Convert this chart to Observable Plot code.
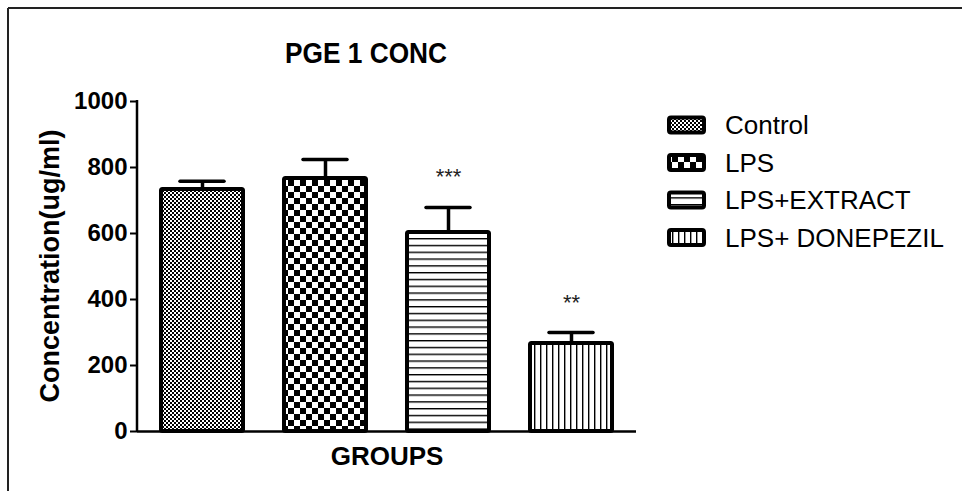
<!DOCTYPE html>
<html><head><meta charset="utf-8">
<script src="https://cdn.jsdelivr.net/npm/d3@7"></script>
<script src="https://cdn.jsdelivr.net/npm/@observablehq/plot@0.6"></script>
<style>
body{margin:0;background:#fff;}
#chart{position:relative;width:962px;height:491px;}
</style>
</head><body><div id="chart"></div>
<script>
const groups = ["Control", "LPS", "LPS+EXTRACT", "LPS+ DONEPEZIL"];
const means = [733, 767, 603, 267];
const sems = [25, 57, 76, 33];
const stars = ["", "", "***", "**"];
const yTicks = [0, 200, 400, 600, 800, 1000];
const patternIds = ["pCtrl", "pLps", "pExt", "pDon"];
const title = "PGE 1 CONC";
const xLabel = "GROUPS";
const yLabel = "Concentration(ug/ml)";

const data = groups.map((g, i) => ({group: g, mean: means[i], sem: sems[i], top: means[i] + sems[i], star: stars[i]}));
const font = "'Liberation Sans', Arial, sans-serif";

const yAxisLine = (index, scales, values, dims) => {
  return d3.create("svg:line")
    .attr("x1", dims.marginLeft).attr("x2", dims.marginLeft)
    .attr("y1", dims.marginTop - 1).attr("y2", dims.height - dims.marginBottom + 1)
    .attr("stroke", "#000").attr("stroke-width", 2.5).node();
};

const svg = Plot.plot({
  width: 962, height: 491,
  marginLeft: 137, marginRight: 326, marginTop: 101, marginBottom: 60,
  style: {background: "transparent", fontFamily: font, color: "#000"},
  x: {domain: groups, paddingInner: 0.33, paddingOuter: 0.19, axis: null},
  y: {domain: [0, 1000], axis: null},
  color: {domain: groups, range: patternIds.map(id => `url(#${id})`)},
  marks: [
    Plot.ruleX(data, {x: "group", y1: "mean", y2: "top", stroke: "#000", strokeWidth: 3.5}),
    Plot.tickY(data, {x: "group", y: "top", inset: 19, stroke: "#000", strokeWidth: 3.5, strokeLinecap: "round"}),
    Plot.barY(data, {x: "group", y: "mean", fill: "group", stroke: "#000", strokeWidth: 4, rx: 1.5}),
    Plot.text(data, {x: "group", y: "top", text: "star", dy: -30, fontSize: 22, fill: "#222"}),
    Plot.axisY({ticks: yTicks, tickSize: 7, tickPadding: 3, fontSize: 24, fontWeight: "bold", label: null, tickFormat: d => String(d), strokeWidth: 2}),
    Plot.ruleY([0], {stroke: "#000", strokeWidth: 2.5}),
    yAxisLine
  ]
});

const root = d3.select(svg);
const defs = root.insert("defs", ":first-child");
// fine checker
let p = defs.append("pattern").attr("id", "pCtrl").attr("patternUnits", "userSpaceOnUse").attr("width", 4).attr("height", 4);
p.append("rect").attr("width", 4).attr("height", 4).attr("fill", "#fff");
p.append("rect").attr("width", 2).attr("height", 2).attr("fill", "#000");
p.append("rect").attr("x", 2).attr("y", 2).attr("width", 2).attr("height", 2).attr("fill", "#000");
// coarse checker
p = defs.append("pattern").attr("id", "pLps").attr("patternUnits", "userSpaceOnUse").attr("width", 12).attr("height", 12);
p.append("rect").attr("width", 12).attr("height", 12).attr("fill", "#fff");
p.append("rect").attr("width", 6).attr("height", 6).attr("fill", "#000");
p.append("rect").attr("x", 6).attr("y", 6).attr("width", 6).attr("height", 6).attr("fill", "#000");
// horizontal lines
p = defs.append("pattern").attr("id", "pExt").attr("patternUnits", "userSpaceOnUse").attr("width", 10).attr("height", 6.8);
p.append("rect").attr("width", 10).attr("height", 6.8).attr("fill", "#fff");
p.append("rect").attr("width", 10).attr("height", 1.4).attr("fill", "#000");
// vertical lines
p = defs.append("pattern").attr("id", "pDon").attr("patternUnits", "userSpaceOnUse").attr("width", 6).attr("height", 10);
p.append("rect").attr("width", 6).attr("height", 10).attr("fill", "#fff");
p.append("rect").attr("width", 1.4).attr("height", 10).attr("fill", "#000");

// outer frame lines
root.append("line").attr("x1", 8).attr("x2", 962).attr("y1", 8).attr("y2", 8).attr("stroke", "#222").attr("stroke-width", 2);
root.append("line").attr("x1", 8).attr("x2", 8).attr("y1", 8).attr("y2", 491).attr("stroke", "#222").attr("stroke-width", 2);

// title and axis labels
root.append("text").attr("x", 366).attr("y", 63).attr("text-anchor", "middle")
  .attr("font-family", font).attr("font-weight", "bold").attr("font-size", 29)
  .attr("textLength", 162).attr("lengthAdjust", "spacingAndGlyphs").attr("fill", "#000").text(title);
root.append("text").attr("x", 387).attr("y", 465).attr("text-anchor", "middle")
  .attr("font-family", font).attr("font-weight", "bold").attr("font-size", 26).attr("fill", "#000").text(xLabel);
root.append("text").attr("transform", "translate(59,266) rotate(-90)").attr("text-anchor", "middle")
  .attr("font-family", font).attr("font-weight", "bold").attr("font-size", 27).attr("fill", "#000").text(yLabel);

// legend
const lg = root.append("g").attr("text-anchor", "start");
groups.forEach((g, i) => {
  const cy = 125 + i * 37.5;
  lg.append("rect").attr("x", 669).attr("y", cy - 7.5).attr("width", 35).attr("height", 15).attr("rx", 2)
    .attr("fill", `url(#${patternIds[i]})`).attr("stroke", "#000").attr("stroke-width", 4);
  lg.append("text").attr("x", 725).attr("y", cy + 9).attr("text-anchor", "start").attr("font-family", font).attr("font-size", 26)
    .attr("fill", "#000").text(g);
});

document.getElementById("chart").appendChild(svg);
</script>
</body></html>
